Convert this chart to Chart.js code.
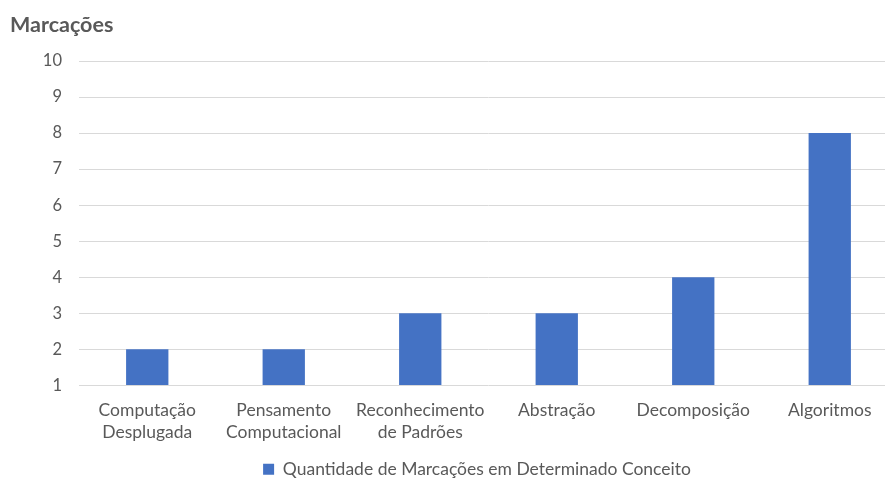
<!DOCTYPE html>
<html>
<head>
<meta charset="utf-8">
<script src="https://cdn.jsdelivr.net/npm/chart.js@4/dist/chart.umd.min.js"></script>
<style>
  html, body { margin: 0; padding: 0; background: #fff; overflow: hidden; }
  #wrap { position: relative; width: 885px; height: 481px; overflow: hidden; }
  #titulo {
    position: absolute; left: 10px; top: 14px; margin: 0;
    font: bold 21.5px Lato, "Open Sans", sans-serif; line-height: 1;
    color: #595959;
  }
  canvas { position: absolute; left: 0; top: 0; }
</style>
</head>
<body>
<div id="wrap">
  <canvas id="marcacoesChart" width="955" height="488"></canvas>
  <div id="titulo"></div>
</div>
<script>
// Conceitos e o número de marcações de cada um
const conceitos = [
  ['Computação', 'Desplugada'],
  ['Pensamento', 'Computacional'],
  ['Reconhecimento', 'de Padrões'],
  'Abstração',
  'Decomposição',
  'Algoritmos'
];
const marcacoes = [2, 2, 3, 3, 4, 8];
const serieNome = 'Quantidade de Marcações em Determinado Conceito';
const tituloEixo = 'Marcações';
const eixoMin = 1;
const eixoMax = 10;

const cinza = '#595959';
const azul = '#4472C4';
const fonte = 'Lato, "Open Sans", sans-serif';

document.getElementById('titulo').textContent = tituloEixo;

const ctx = document.getElementById('marcacoesChart').getContext('2d');
new Chart(ctx, {
  type: 'bar',
  data: {
    labels: conceitos,
    datasets: [{
      label: serieNome,
      data: marcacoes,
      base: eixoMin,
      backgroundColor: azul,
      borderWidth: 0,
      barPercentage: 0.31,
      categoryPercentage: 1
    }]
  },
  options: {
    responsive: false,
    animation: false,
    layout: { padding: { left: 10, right: 11, top: 61, bottom: 0 } },
    plugins: {
      title: { display: false },
      legend: {
        position: 'bottom',
        labels: {
          color: cinza,
          font: { family: fonte, size: 17.5 },
          boxWidth: 11,
          boxHeight: 11,
          padding: 3
        }
      },
      tooltip: { enabled: false }
    },
    scales: {
      x: {
        grid: { display: false, drawTicks: false },
        border: { display: false },
        ticks: {
          color: cinza,
          font: { family: fonte, size: 17.5, lineHeight: 1.26 },
          padding: 14,
          maxRotation: 0,
          autoSkip: false
        }
      },
      y: {
        min: eixoMin,
        max: eixoMax,
        grid: { color: '#d9d9d9', lineWidth: 1, drawTicks: false },
        border: { display: false },
        ticks: {
          stepSize: 1,
          color: cinza,
          font: { family: fonte, size: 16.5 },
          padding: 17
        },
        afterFit: (scale) => { scale.width = 69; }
      },
      // eixo vazio à direita, só reserva espaço para centrar a legenda
      yDir: {
        position: 'right',
        min: eixoMin,
        max: eixoMax,
        grid: { display: false, drawTicks: false },
        border: { display: false },
        ticks: { display: false },
        afterFit: (scale) => { scale.width = 46; }
      }
    }
  }
});
</script>
</body>
</html>
